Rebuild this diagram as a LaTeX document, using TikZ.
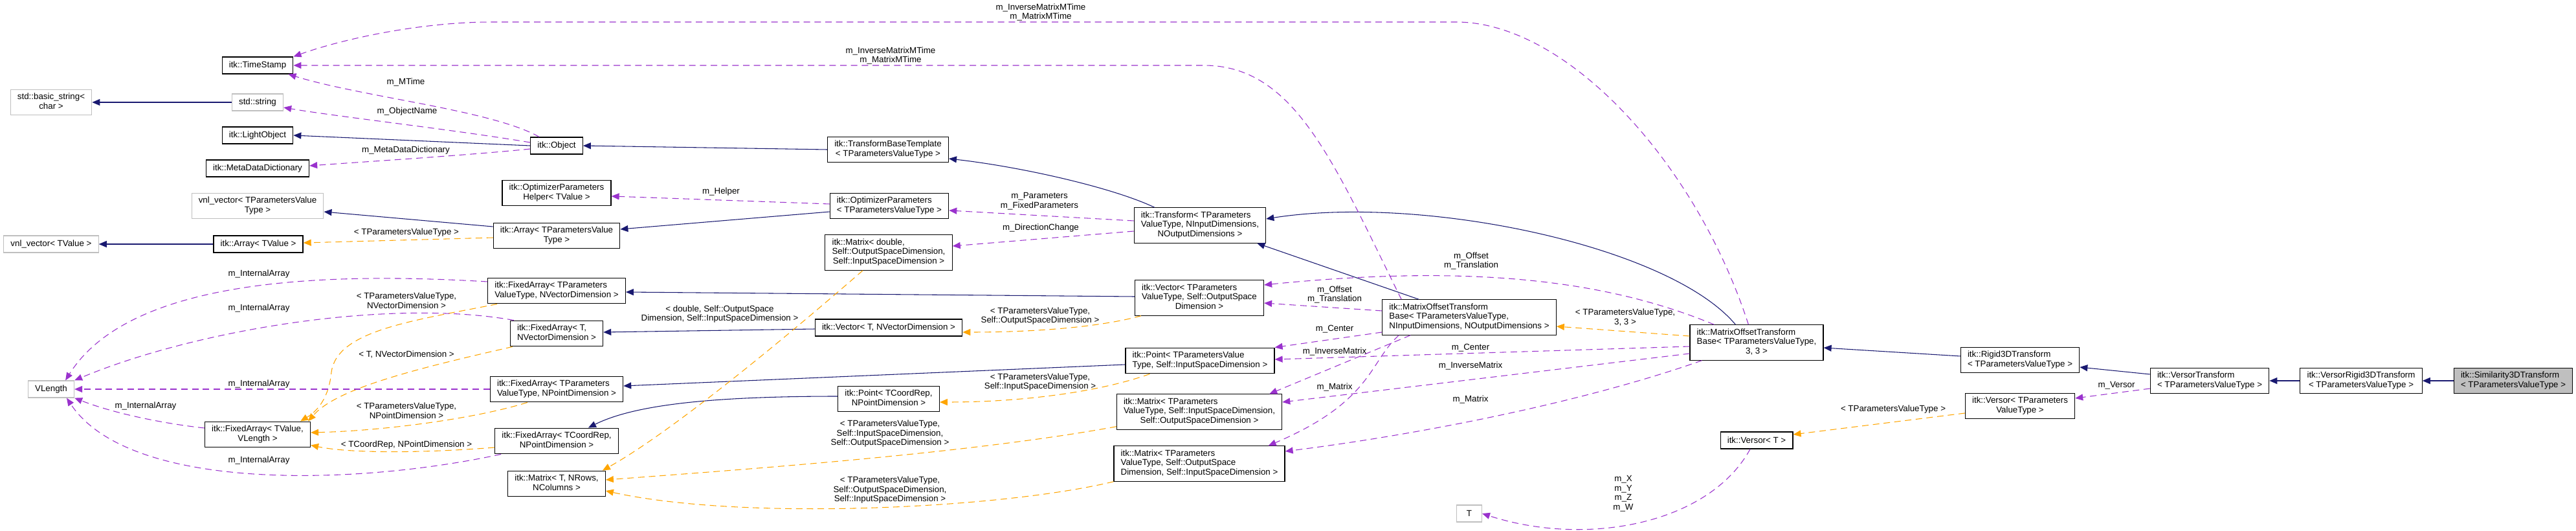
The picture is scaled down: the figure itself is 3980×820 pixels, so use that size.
\documentclass[tikz,border=0pt]{standalone}
\usepackage{fontspec}
\setmainfont{Liberation Sans}
\usetikzlibrary{arrows.meta,calc}

\definecolor{inhcol}{HTML}{191970}
\definecolor{usecol}{HTML}{9A32CD}
\definecolor{tplcol}{HTML}{FFA500}
\definecolor{extcol}{HTML}{BFBFBF}

% class label: first lines left, last line centred
\newcommand{\lns}[2]{\begin{tabular}{@{}l@{}}#1\\\multicolumn{1}{@{}c@{}}{#2}\end{tabular}}

\begin{document}
\begin{tikzpicture}[x=0.75pt, y=-0.75pt,
    every node/.style={font=\fontsize{10}{10.9}\selectfont},
    % documented classes: black frame
    cls/.style={rectangle, draw=black, line width=0.9pt, fill=white,
        inner xsep=8pt, inner ysep=4pt, minimum height=19.5pt},
    % classes without documentation: grey frame
    ext/.style={cls, draw=extcol},
    % the class of this graph
    cur/.style={cls, fill=extcol},
    % edge labels
    lbl/.style={align=center, inner sep=0pt},
    % connectors
    tip/.style={-{Triangle[length=9pt, width=7.5pt]}},
    inh/.style={tip, draw=inhcol, line width=0.8pt},
    use/.style={tip, draw=usecol, line width=0.8pt, dash pattern=on 7.5pt off 5pt},
    tpl/.style={tip, draw=tplcol, line width=0.8pt, dash pattern=on 7.5pt off 5pt},
]
\useasboundingbox (0,0) rectangle (3980,820);

% ============================================================
% Column 1
% ============================================================
\node[cls] (timestamp) at (398,101) {itk::TimeStamp};
\node[ext] (basicstr) at (79,158) {\lns{std::basic\_string<}{char >}};
\node[ext] (stdstr) at (398,158) {std::string};
\node[cls] (lightobj) at (398,209) {itk::LightObject};
\node[cls] (mdd) at (398,260) {itk::MetaDataDictionary};
\node[ext] (vnltpvt) at (398,318) {\lns{vnl\_vector< TParametersValue}{Type >}};
\node[ext] (vnltval) at (79,377) {vnl\_vector< TValue >};
\node[cls] (arrtval) at (399,377) {itk::Array< TValue >};
\node[ext] (vlength) at (79,601) {VLength};
\node[cls] (favl) at (398,671) {\lns{itk::FixedArray< TValue,}{VLength >}};

% ============================================================
% Column 2
% ============================================================
\node[cls] (obj) at (860,225) {itk::Object};
\node[cls] (ophelper) at (860,298) {\lns{itk::OptimizerParameters}{Helper< TValue >}};
\node[cls] (arrtpvt) at (860,364) {\lns{itk::Array< TParametersValue}{Type >}};
\node[cls] (fatpvtv) at (860,449) {\lns{itk::FixedArray< TParameters}{ValueType, NVectorDimension >}};
\node[cls] (fatv) at (860,515) {\lns{itk::FixedArray< T,}{NVectorDimension >}};
\node[cls] (fatpvtp) at (860,601) {\lns{itk::FixedArray< TParameters}{ValueType, NPointDimension >}};
\node[cls] (facoord) at (860,681) {\lns{itk::FixedArray< TCoordRep,}{NPointDimension >}};
\node[cls] (matt) at (860,747) {\lns{itk::Matrix< T, NRows,}{NColumns >}};

% ============================================================
% Column 3
% ============================================================
\node[cls] (tbt) at (1372,231) {\lns{itk::TransformBaseTemplate}{< TParametersValueType >}};
\node[cls] (optparams) at (1374,318) {\lns{itk::OptimizerParameters}{< TParametersValueType >}};
\node[cls] (matdbl) at (1373,390) {\lns{itk::Matrix< double,\\Self::OutputSpaceDimension,}{Self::InputSpaceDimension >}};
\node[cls] (vect) at (1373,506) {itk::Vector< T, NVectorDimension >};
\node[cls] (ptcoord) at (1373,616) {\lns{itk::Point< TCoordRep,}{NPointDimension >}};

% ============================================================
% Column 4
% ============================================================
\node[cls] (transform) at (1854,348) {\lns{itk::Transform< TParameters\\ValueType, NInputDimensions,}{NOutputDimensions >}};
\node[cls] (vectpvt) at (1853,460) {\lns{itk::Vector< TParameters\\ValueType, Self::OutputSpace}{Dimension >}};
\node[cls] (pttpvt) at (1854,557) {\lns{itk::Point< TParametersValue}{Type, Self::InputSpaceDimension >}};
\node[cls] (matio) at (1853,636) {\lns{itk::Matrix< TParameters\\ValueType, Self::InputSpaceDimension,}{Self::OutputSpaceDimension >}};
\node[cls] (matoi) at (1853,716) {\lns{itk::Matrix< TParameters\\ValueType, Self::OutputSpace}{Dimension, Self::InputSpaceDimension >}};

% ============================================================
% Right part
% ============================================================
\node[cls] (motb) at (2270,490) {\lns{itk::MatrixOffsetTransform\\Base< TParametersValueType,}{NInputDimensions, NOutputDimensions >}};
\node[ext, minimum width=29pt] (tnode) at (2270,793) {T};
\node[cls] (motb33) at (2714,529) {\lns{itk::MatrixOffsetTransform\\Base< TParametersValueType,}{3, 3 >}};
\node[cls] (versort) at (2714,680) {itk::Versor< T >};
\node[cls] (rigid) at (3121,556) {\lns{itk::Rigid3DTransform}{< TParametersValueType >}};
\node[cls] (versortpvt) at (3121,627) {\lns{itk::Versor< TParameters}{ValueType >}};
\node[cls] (versortr) at (3414,588) {\lns{itk::VersorTransform}{< TParametersValueType >}};
\node[cls] (vrigid) at (3648,588) {\lns{itk::VersorRigid3DTransform}{< TParametersValueType >}};
\node[cur] (sim) at (3883,588) {\lns{itk::Similarity3DTransform}{< TParametersValueType >}};

% ============================================================
% Inheritance
% ============================================================
\draw[inh] (stdstr.west) -- (basicstr.east);
\draw[inh] (obj.west) -- (lightobj.east);
\draw[inh] (tbt.west) -- (obj.east);
\draw[inh] ($(transform.north west)+(32,0)$) .. controls (1720,290) and (1580,258) .. ($(tbt.east)+(0,14)$);
\draw[inh] ($(motb.north west)+(57,0)$) -- ($(transform.south east)+(-14,0)$);
\draw[inh] ($(motb33.north west)+(71,0)$) .. controls (2580,380) and (2200,300) .. ($(transform.east)+(0,-10)$);
\draw[inh] ($(rigid.west)+(0,-6)$) -- ($(motb33.east)+(0,8)$);
\draw[inh] ($(versortr.west)+(0,-10)$) -- ($(rigid.east)+(0,11)$);
\draw[inh] (vrigid.west) -- (versortr.east);
\draw[inh] (sim.west) -- (vrigid.east);
\draw[inh] ($(optparams.west)+(0,9)$) -- ($(arrtpvt.east)+(0,-10)$);
\draw[inh] ($(arrtpvt.west)+(0,-14)$) -- ($(vnltpvt.east)+(0,9)$);
\draw[inh] (arrtval.west) -- (vnltval.east);
\draw[inh] ($(vectpvt.west)+(0,-2)$) -- ($(fatpvtv.east)+(0,2)$);
\draw[inh] ($(vect.west)+(0,2)$) -- ($(fatv.east)+(0,-2)$);
\draw[inh] ($(pttpvt.west)+(0,6)$) -- ($(fatpvtp.east)+(0,-5)$);
\draw[inh] ($(ptcoord.west)+(0,-4)$) .. controls (1100,612) and (980,625) .. ($(facoord.north east)+(-47,0)$);

% ============================================================
% Template instances
% ============================================================
\draw[tpl] ($(arrtpvt.west)+(0,3)$) -- ($(arrtval.east)+(0,-2)$);
\draw[tpl] ($(fatpvtv.south west)+(15,0)$) .. controls (640,495) and (520,510) .. (512,575) .. controls (508,615) and (490,635) .. ($(favl.north east)+(-16,0)$);
\draw[tpl] ($(fatv.south west)+(4,0)$) .. controls (640,570) and (520,600) .. ($(favl.north east)+(-4,0)$);
\draw[tpl] ($(fatpvtp.south west)+(58,0)$) .. controls (740,645) and (600,665) .. ($(favl.east)+(0,-3)$);
\draw[tpl] ($(facoord.west)+(0,10)$) .. controls (650,700) and (540,700) .. ($(favl.south east)+(0,-4)$);
\draw[tpl] ($(vectpvt.south west)+(10,0)$) .. controls (1700,505) and (1600,513) .. ($(vect.east)+(0,7)$);
\draw[tpl] ($(pttpvt.south west)+(38,0)$) .. controls (1700,605) and (1580,621) .. ($(ptcoord.east)+(0,5)$);
\draw[tpl] ($(matio.south west)+(0,-5)$) .. controls (1500,700) and (1150,725) .. ($(matt.east)+(0,-6)$);
\draw[tpl] (matoi.south west) .. controls (1550,785) and (1150,805) .. ($(matt.east)+(0,11)$);
\draw[tpl] ($(matdbl.south)+(-40,0)$) .. controls (1250,490) and (1050,660) .. ($(matt.north east)+(-5,0)$);
\draw[tpl] ($(motb33.west)+(0,-10)$) -- ($(motb.east)+(0,14)$);
\draw[tpl] ($(versortpvt.west)+(0,11)$) -- ($(versort.east)+(0,-9)$);

% ============================================================
% Members
% ============================================================
\draw[use] ($(obj.north west)+(14,0)$) .. controls (760,170) and (560,150) .. ($(timestamp.south east)+(-8,0)$);
\draw[use] ($(obj.west)+(0,-5)$) .. controls (700,200) and (520,180) .. ($(stdstr.east)+(0,8)$);
\draw[use] ($(obj.west)+(0,5)$) .. controls (720,240) and (560,250) .. ($(mdd.east)+(0,-4)$);
\draw[use] ($(motb33.north west)+(91,0)$) .. controls (2620,250) and (2420,34) .. (2250,34) -- (760,34) .. controls (650,34) and (530,60) .. (timestamp.north east);
\draw[use] ($(motb.north west)+(30,0)$) .. controls (2060,250) and (2000,101) .. (1860,101) -- (timestamp.east);
\draw[use] ($(transform.west)+(0,-7)$) -- ($(optparams.east)+(0,7)$);
\draw[use] ($(transform.west)+(0,9)$) -- ($(matdbl.east)+(0,-10)$);
\draw[use] ($(optparams.west)+(0,-3)$) -- ($(ophelper.east)+(0,5)$);
\draw[use] ($(fatpvtv.west)+(0,-14)$) .. controls (500,420) and (200,430) .. ($(vlength.north east)+(-14,0)$);
\draw[use] ($(fatv.north west)+(6,0)$) .. controls (600,460) and (300,510) .. (vlength.north east);
\draw[use] (fatpvtp.west) -- (vlength.east);
\draw[use] ($(favl.west)+(0,-10)$) .. controls (260,655) and (180,640) .. (vlength.south east);
\draw[use] ($(facoord.south west)+(10,0)$) .. controls (550,750) and (200,760) .. ($(vlength.south)+(24,0)$);
\draw[use] ($(motb.west)+(0,-10)$) -- ($(vectpvt.east)+(0,8)$);
\draw[use] ($(motb.west)+(0,23)$) -- (pttpvt.north east);
\draw[use] ($(motb.south west)+(44,0)$) -- ($(matio.north east)+(-20,0)$);
\draw[use] ($(motb.south west)+(26,0)$) .. controls (2115,560) and (2120,620) .. ($(matoi.north east)+(-26,0)$);
\draw[use] ($(motb33.north west)+(38,0)$) .. controls (2500,440) and (2300,405) .. ($(vectpvt.east)+(0,-20)$);
\draw[use] ($(motb33.west)+(0,6)$) -- ($(pttpvt.east)+(0,-2)$);
\draw[use] ($(motb33.west)+(0,17)$) -- ($(matio.east)+(0,-15)$);
\draw[use] ($(motb33.south west)+(19,0)$) .. controls (2450,620) and (2200,670) .. ($(matoi.east)+(0,-19)$);
\draw[use] ($(versortr.west)+(0,12)$) -- ($(versortpvt.east)+(0,-12)$);
\draw[use] ($(versort.south)+(-10,0)$) .. controls (2640,810) and (2450,845) .. (tnode.east);

% ============================================================
% Edge labels
% ============================================================
\node[lbl] (lmtime) at (627,127) {m\_MTime};
\node[lbl] (lobjname) at (629,172) {m\_ObjectName};
\node[lbl] (lmdd) at (627,232) {m\_MetaDataDictionary};
\node[lbl] (larr) at (628,359) {< TParametersValueType >};
\node[lbl] (lhelper) at (1114,296) {m\_Helper};
\node[lbl] (ltimetop) at (1608,19) {m\_InverseMatrixMTime\\m\_MatrixMTime};
\node[lbl] (ltimemid) at (1376,86) {m\_InverseMatrixMTime\\m\_MatrixMTime};
\node[lbl] (lparams) at (1606,311) {m\_Parameters\\m\_FixedParameters};
\node[lbl] (ldir) at (1608,352) {m\_DirectionChange};
\node[lbl] (lia1) at (400,423) {m\_InternalArray};
\node[lbl] (lia2) at (400,476) {m\_InternalArray};
\node[lbl] (lia3) at (400,593) {m\_InternalArray};
\node[lbl] (lia4) at (225,627) {m\_InternalArray};
\node[lbl] (lia5) at (400,711) {m\_InternalArray};
\node[lbl] (lfa1) at (628,464) {< TParametersValueType,\\NVectorDimension >};
\node[lbl] (lfa2) at (628,548) {< T, NVectorDimension >};
\node[lbl] (lfa3) at (628,634) {< TParametersValueType,\\NPointDimension >};
\node[lbl] (lfa4) at (628,687) {< TCoordRep, NPointDimension >};
\node[lbl] (lmatdbl) at (1112,485) {< double, Self::OutputSpace\\Dimension, Self::InputSpaceDimension >};
\node[lbl] (lvec) at (1607,488) {< TParametersValueType,\\Self::OutputSpaceDimension >};
\node[lbl] (lpt) at (1607,590) {< TParametersValueType,\\Self::InputSpaceDimension >};
\node[lbl] (lmatio) at (1375,670) {< TParametersValueType,\\Self::InputSpaceDimension,\\Self::OutputSpaceDimension >};
\node[lbl] (lmatoi) at (1375,757) {< TParametersValueType,\\Self::OutputSpaceDimension,\\Self::InputSpaceDimension >};
\node[lbl] (loff1) at (2062,455) {m\_Offset\\m\_Translation};
\node[lbl] (lcen1) at (2062,508) {m\_Center};
\node[lbl] (linv1) at (2062,543) {m\_InverseMatrix};
\node[lbl] (lmat1) at (2062,598) {m\_Matrix};
\node[lbl] (loff2) at (2273,403) {m\_Offset\\m\_Translation};
\node[lbl] (lcen2) at (2272,537) {m\_Center};
\node[lbl] (linv2) at (2272,565) {m\_InverseMatrix};
\node[lbl] (lmat2) at (2272,617) {m\_Matrix};
\node[lbl] (l33) at (2511,490) {< TParametersValueType,\\3, 3 >};
\node[lbl] (lversor) at (2925,632) {< TParametersValueType >};
\node[lbl] (lmversor) at (3270,595) {m\_Versor};
\node[lbl] (lxyzw) at (2508,762) {m\_X\\m\_Y\\m\_Z\\m\_W};

\end{tikzpicture}
\end{document}
